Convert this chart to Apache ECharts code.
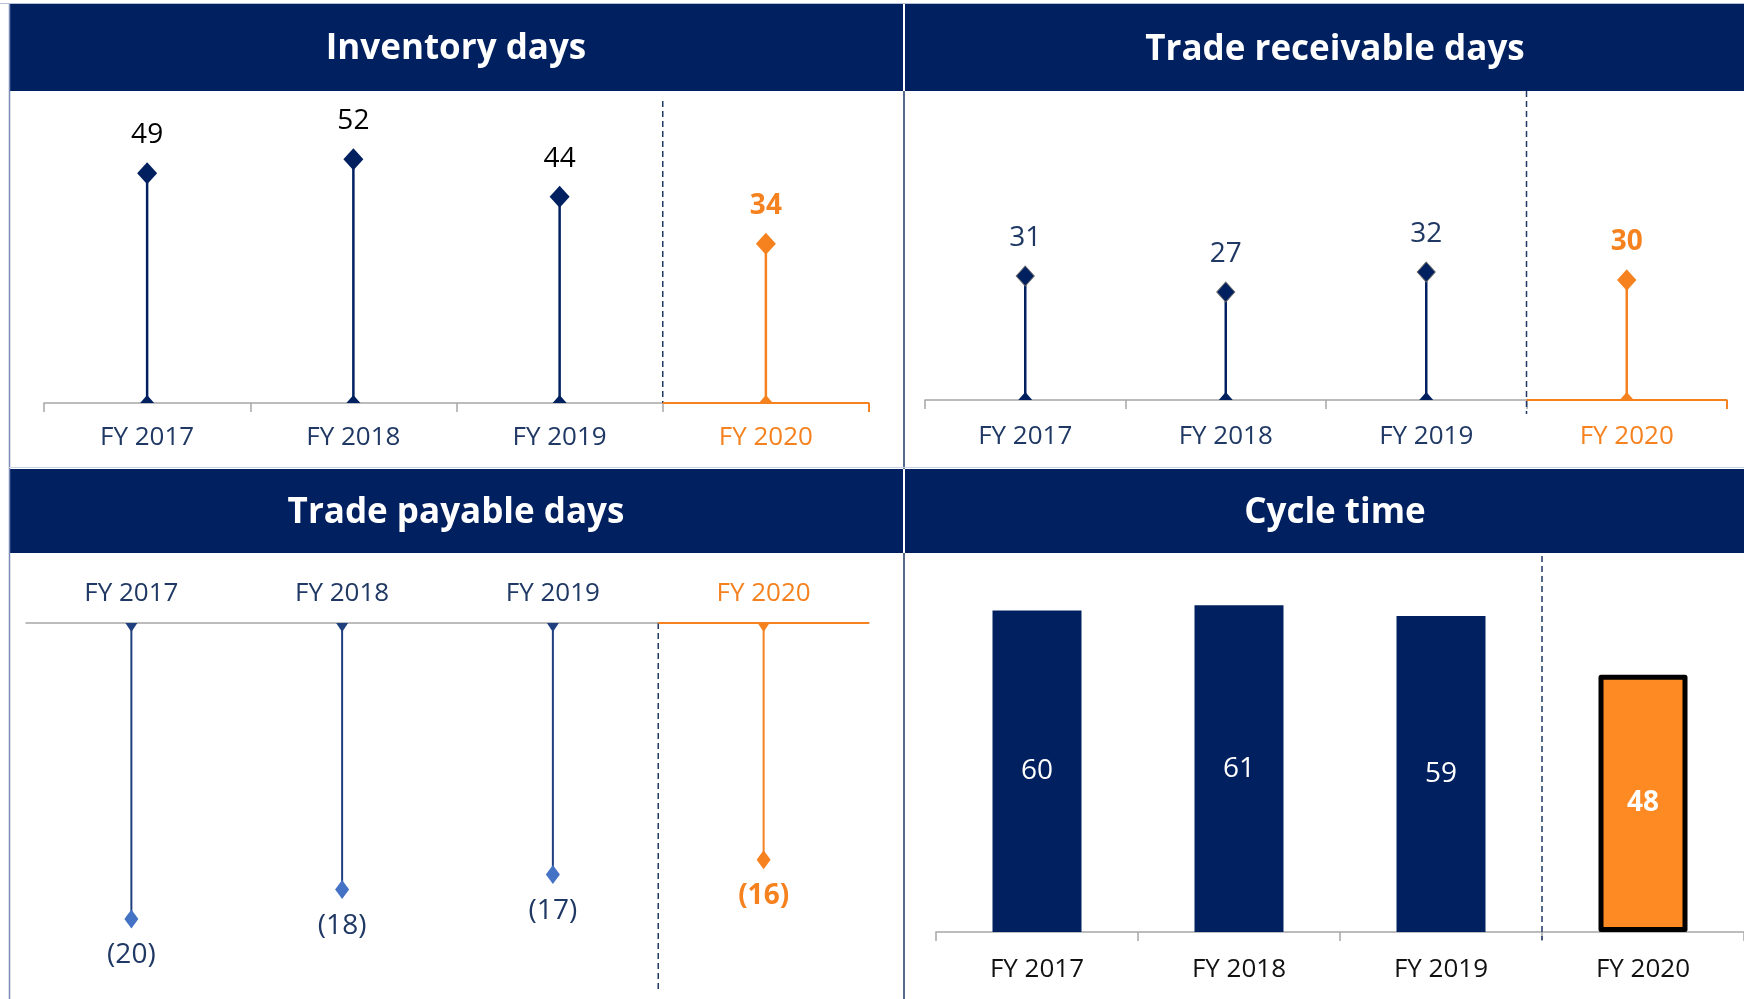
<!DOCTYPE html>
<html>
<head>
<meta charset="utf-8">
<title>Working capital days</title>
<script src="https://cdn.jsdelivr.net/npm/echarts@6/dist/echarts.min.js"></script>
<style>
    html, body { margin: 0; padding: 0; background: #fff; }
    #main { width: 1744px; height: 999px; }
</style>
</head>
<body>
<div id="main"></div>
<script type="text/javascript">
    // data
    var years = ['FY 2017', 'FY 2018', 'FY 2019', 'FY 2020'];
    var inventoryDays = [49, 52, 44, 34];
    var receivableDays = [31, 27, 32, 30];
    var payableDays = [-20, -18, -17, -16];
    var cycleTime = [60, 61, 59, 48];
    var panelTitles = ['Inventory days', 'Trade receivable days', 'Trade payable days', 'Cycle time'];
    var HL = 3; // FY 2020 is highlighted

    var NAVY = '#002060';
    var TEXT_NAVY = '#1F3864';
    var ORANGE = '#F5821F';
    var BAR_ORANGE = '#FD8A23';
    var GRAY = '#A6A6A6';
    var FONT = '"Open Sans", "Noto Sans", sans-serif';

    var chart = echarts.init(document.getElementById('main'));

    function xAxisFor(gi, margin, normalColor, hlColor, position, ticks) {
        return {
            type: 'category', gridIndex: gi, data: years, position: position,
            axisLine: {lineStyle: {color: GRAY, width: 1.5}},
            axisTick: {show: ticks, length: 9, lineStyle: {color: GRAY, width: 1.5}},
            splitLine: {show: false},
            axisLabel: {
                margin: margin, fontSize: 26, fontFamily: FONT,
                color: function (v, i) { return i === HL ? hlColor : normalColor; }
            }
        };
    }

    function yAxisFor(gi, min, max) {
        return {type: 'value', gridIndex: gi, min: min, max: max, show: false};
    }

    // stem + small base marker drawn from the axes' scales
    function stemSeries(gi, values, color, width, down) {
        return {
            type: 'custom', xAxisIndex: gi, yAxisIndex: gi, z: 2,
            data: values.map(function (v, i) { return [i, v]; }),
            encode: {x: 0, y: 1},
            renderItem: function (params, api) {
                var i = api.value(0);
                var base = api.coord([i, 0]);
                var tip = api.coord([i, api.value(1)]);
                var c = i === HL ? ORANGE : color;
                var tri = down
                    ? [[base[0] - 6, base[1]], [base[0] + 6, base[1]], [base[0], base[1] + 9]]
                    : [[base[0] - 7, base[1]], [base[0], base[1] - 8], [base[0] + 7, base[1]]];
                return {
                    type: 'group',
                    children: [
                        {type: 'line', shape: {x1: base[0], y1: base[1], x2: tip[0], y2: tip[1]},
                            style: {stroke: c, lineWidth: width}},
                        {type: 'polygon', shape: {points: tri}, style: {fill: c}}
                    ]
                };
            }
        };
    }

    function headSeries(gi, values, size, color, hlColor, labelColor, pos, fmt, border) {
        return {
            type: 'scatter', xAxisIndex: gi, yAxisIndex: gi, z: 3,
            symbol: 'diamond', symbolSize: size,
            data: values.map(function (v, i) {
                var hl = i === HL;
                return {
                    value: v,
                    itemStyle: {color: hl ? hlColor : color, borderColor: hl ? hlColor : border,
                        borderWidth: border ? 1 : 0, opacity: 1},
                    label: {color: hl ? ORANGE : labelColor, fontWeight: hl ? 'bold' : 'normal'}
                };
            }),
            label: {
                show: true, position: pos, distance: 13, fontSize: 28, fontFamily: FONT,
                formatter: fmt
            }
        };
    }

    var option = {
        backgroundColor: '#fff',
        animation: false,
        grid: [
            {left: 44, top: 103, width: 825, height: 300},
            {left: 925, top: 100, width: 802, height: 300},
            {left: 26, top: 623, width: 843, height: 370},
            {left: 936, top: 557, width: 812, height: 375}
        ],
        xAxis: [
            xAxisFor(0, 22, TEXT_NAVY, ORANGE, 'bottom', true),
            xAxisFor(1, 24, TEXT_NAVY, ORANGE, 'bottom', true),
            xAxisFor(2, 16, TEXT_NAVY, ORANGE, 'top', false),
            xAxisFor(3, 25, '#111', '#111', 'bottom', true)
        ],
        yAxis: [
            yAxisFor(0, 0, 64),
            yAxisFor(1, 0, 75),
            yAxisFor(2, -25, 0),
            yAxisFor(3, 0, 70)
        ],
        series: [
            stemSeries(0, inventoryDays, NAVY, 2.5, false),
            headSeries(0, inventoryDays, [20, 22], NAVY, ORANGE, '#000', 'top', '{c}', null),
            stemSeries(1, receivableDays, NAVY, 2.5, false),
            headSeries(1, receivableDays, [18, 20], NAVY, ORANGE, TEXT_NAVY, 'top', '{c}', '#666'),
            stemSeries(2, payableDays, '#203F7F', 2, true),
            headSeries(2, payableDays, [14, 19], '#4472C4', ORANGE, TEXT_NAVY, 'bottom',
                function (p) { return '(' + Math.abs(p.value) + ')'; }, null),
            {
                type: 'bar', xAxisIndex: 3, yAxisIndex: 3, barWidth: 89,
                data: cycleTime.map(function (v, i) {
                    var hl = i === HL;
                    return {
                        value: v,
                        itemStyle: hl ? {color: BAR_ORANGE, borderColor: '#000', borderWidth: 5, borderJoin: 'round'}
                            : {color: NAVY},
                        label: {fontWeight: hl ? 'bold' : 'normal'}
                    };
                }),
                label: {show: true, position: 'inside', color: '#fff', fontSize: 28, fontFamily: FONT}
            }
        ]
    };
    chart.setOption(option);

    // decoration: headers, panel borders, dividers, highlighted axis part
    var g = [];
    var heads = [
        [9, 4, 894, 87, 456, 49], [905, 4, 839, 87, 1335, 50],
        [9, 469, 894, 84, 456, 513], [905, 469, 839, 84, 1335, 513]
    ];
    heads.forEach(function (h, k) {
        g.push({type: 'rect', shape: {x: h[0], y: h[1], width: h[2], height: h[3]}, style: {fill: NAVY}});
        g.push({type: 'text', x: h[4], y: h[5], style: {
            text: panelTitles[k], fill: '#fff', fontSize: 35, fontWeight: 'bold', fontFamily: FONT,
            align: 'center', verticalAlign: 'middle'}});
    });
    g.push({type: 'line', shape: {x1: 0, y1: 3.5, x2: 1744, y2: 3.5}, style: {stroke: '#B4C0D8', lineWidth: 1}});
    g.push({type: 'line', shape: {x1: 9.5, y1: 4, x2: 9.5, y2: 999}, style: {stroke: '#7A8CB5', lineWidth: 1.5}});
    g.push({type: 'line', shape: {x1: 904, y1: 91, x2: 904, y2: 469}, style: {stroke: TEXT_NAVY, lineWidth: 1.5}});
    g.push({type: 'line', shape: {x1: 904, y1: 553, x2: 904, y2: 999}, style: {stroke: TEXT_NAVY, lineWidth: 1.5}});
    g.push({type: 'line', shape: {x1: 9, y1: 467.5, x2: 1744, y2: 467.5}, style: {stroke: '#C9D1E3', lineWidth: 1}});

    function band(k) {
        var a = chart.convertToPixel({xAxisIndex: k}, years[HL - 1]);
        var b = chart.convertToPixel({xAxisIndex: k}, years[HL]);
        return {mid: (a + b) / 2, end: b + (b - a) / 2, y0: chart.convertToPixel({yAxisIndex: k}, 0)};
    }
    // [grid, divider top, divider bottom offset, orange axis, end tick]
    [[0, 101, 0, true, true], [1, 91, 14, true, true], [2, null, 990, true, false], [3, 556, 8, false, false]]
        .forEach(function (d) {
            var b = band(d[0]);
            var y1 = d[1] === null ? b.y0 : d[1];
            var y2 = d[1] === null ? d[2] : b.y0 + d[2];
            g.push({type: 'line', z: 1, shape: {x1: b.mid, y1: y1, x2: b.mid, y2: y2},
                style: {stroke: TEXT_NAVY, lineWidth: 1.5, lineDash: [6, 4]}});
            if (d[3]) {
                g.push({type: 'line', z: 1, shape: {x1: b.mid, y1: b.y0, x2: b.end, y2: b.y0},
                    style: {stroke: ORANGE, lineWidth: 2}});
            }
            if (d[4]) {
                g.push({type: 'line', z: 1, shape: {x1: b.end, y1: b.y0, x2: b.end, y2: b.y0 + 9},
                    style: {stroke: ORANGE, lineWidth: 2}});
            }
        });
    chart.setOption({graphic: g});
</script>
</body>
</html>
